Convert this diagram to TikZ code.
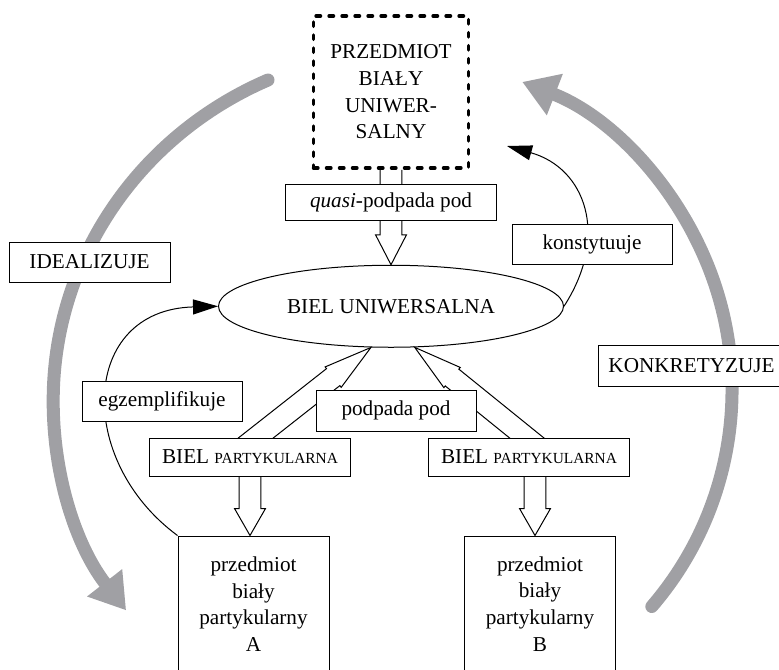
\documentclass[tikz,border=0pt]{standalone}
\usepackage{fontspec}
\setmainfont{Liberation Serif}
\usetikzlibrary{calc,positioning,shapes.geometric,arrows.meta}

\pgfdeclarelayer{background}
\pgfsetlayers{background,main}

\definecolor{arcgray}{RGB}{160,160,164}
\newcommand{\partcaps}[1]{{\fontsize{7.7}{9}\selectfont #1}}
\newcommand{\shafthalf}{5.4pt}
% open block arrow: tail, tip, head length, head half width
\newcommand{\hollowarrow}[4]{%
  \coordinate (ha-t) at (#1);
  \coordinate (ha-p) at (#2);
  \coordinate (ha-b) at ($(ha-p)!#3!(ha-t)$);
  \draw [hollow] ($(ha-t)!\shafthalf!90:(ha-p)$) -- ($(ha-b)!\shafthalf!90:(ha-p)$)
    -- ($(ha-b)!#4!90:(ha-p)$) -- (ha-p) -- ($(ha-b)!#4!-90:(ha-p)$)
    -- ($(ha-b)!\shafthalf!-90:(ha-p)$) -- ($(ha-t)!\shafthalf!-90:(ha-p)$);
}

\begin{document}
\begin{tikzpicture}[x=0.5pt,y=-0.5pt,>={Triangle[length=12.5pt,width=7.5pt]},font=\fontsize{10.6}{13.35}\selectfont]
\tikzset{
labelbox/.style = {draw, fill=white, line width=0.5pt, minimum width=80pt, minimum height=20pt, inner sep=1pt},
itembox/.style = {draw, fill=white, line width=0.5pt, align=center, inner sep=1pt},
univbox/.style = {draw, fill=white, line width=1.75pt, line cap=round, dash pattern=on 2.2pt off 4.3pt, minimum width=77.5pt, minimum height=76pt, align=center},
whiteness/.style = {draw, ellipse, line width=0.5pt, minimum width=172.5pt, minimum height=41pt, inner sep=0pt},
hollow/.style = {line width=0.5pt, line join=miter},
relation/.style = {->, line width=0.5pt},
bigarrow/.style = {draw=arcgray, line width=6.5pt, line cap=round, -{Triangle[length=17.5pt,width=21pt]}}
}

\useasboundingbox (0,0) rectangle (779,669);

% grey arcs
\draw [bigarrow] (268,80) arc [start angle=114, end angle=217, x radius=181pt, y radius=175pt];
\draw [bigarrow] (651.8,606.5) arc [start angle=-41, end angle=69, x radius=163.5pt, y radius=165pt];

\node [univbox] (univ) at (391,92) {PRZEDMIOT\\BIAŁY\\UNIWER-\\SALNY};
\node [whiteness, below = 47.5pt of univ] (bielu) {BIEL UNIWERSALNA};
\node [itembox, minimum width=75.5pt, minimum height=68pt] (itemA) at (253.5,604) {przedmiot\\biały\\partykularny\\A};
\node [itembox, minimum width=75.5pt, minimum height=68pt] (itemB) at (540,604) {przedmiot\\biały\\partykularny\\B};
\node [itembox, above = 29.5pt of itemA, xshift=-1.75pt, minimum width=100.5pt, minimum height=19pt] (partA) {BIEL \partcaps{PARTYKULARNA}};
\node [itembox, above = 29.5pt of itemB, xshift=-5.5pt, minimum width=100.5pt, minimum height=19pt] (partB) {BIEL \partcaps{PARTYKULARNA}};

% block arrows go under the boxes
\begin{pgfonlayer}{background}
\hollowarrow{univ.south}{bielu.north}{15pt}{7.75pt}
\hollowarrow{$(partA.center)+(-18.4,0)$}{bielu.-116}{24pt}{6.5pt}
\hollowarrow{$(partB.center)+(21.3,0)$}{bielu.-60}{24pt}{6.5pt}
\hollowarrow{partA.south}{partA.south |- itemA.north}{13.5pt}{7.75pt}
\hollowarrow{$(itemB.north |- partB.south)+(-5,0)$}{$(itemB.north)+(-5,0)$}{13.5pt}{7.75pt}
\end{pgfonlayer}

\coordinate (konsttip) at (507,146);
\draw [relation] (itemA.north west) .. controls (75,460) and (80,310) .. (bielu.west);
\draw [relation] (bielu.east) .. controls (610,235) and (585,168) .. (konsttip);

\node [labelbox, below = 7pt of univ, minimum width=105.5pt, minimum height=18pt] (quasi) {\textit{quasi}-podpada pod};
\node [labelbox, minimum height=20.5pt] (podpada) at (396,410.5) {podpada pod};
\node [labelbox] (egz) at (162,401.5) {egzemplifikuje};
\node [labelbox] (konst) at (592,244) {konstytuuje};
\node [labelbox, minimum width=80.5pt] (ideal) at (89.5,262) {IDEALIZUJE};
\node [labelbox, minimum width=93.5pt, minimum height=20.5pt] (konkr) at (691.5,365.5) {KONKRETYZUJE};
\end{tikzpicture}
\end{document}
